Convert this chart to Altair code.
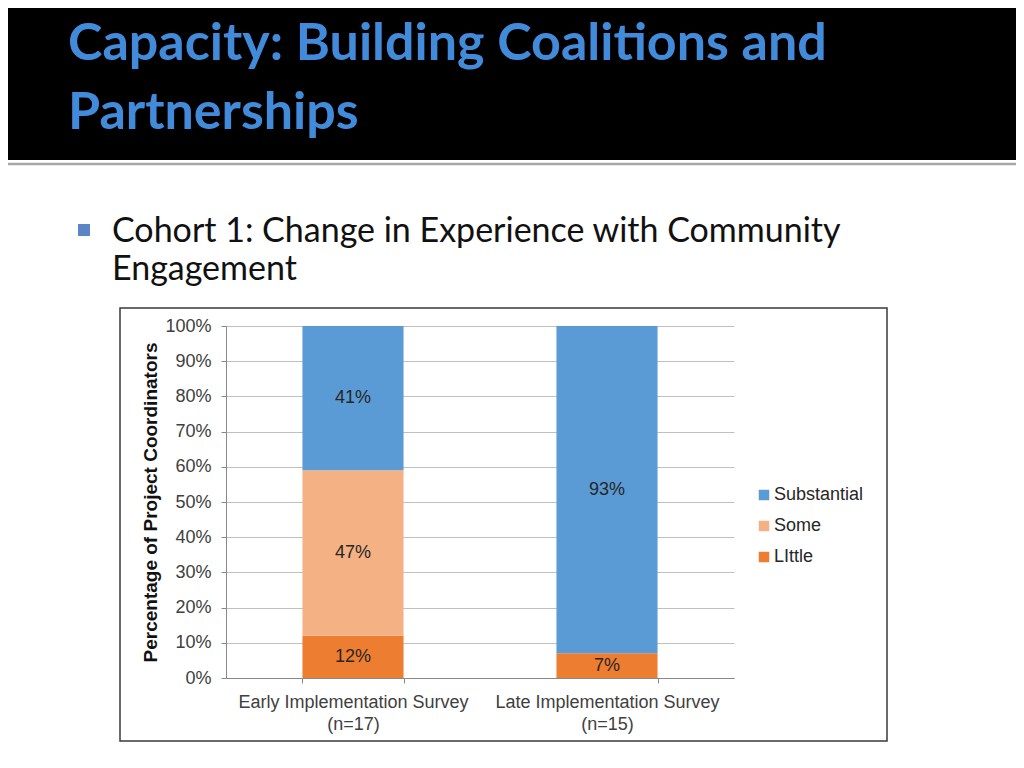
import altair as alt
import pandas as pd

# ---- content ----
title_lines = ["Capacity: Building Coalitions and", "Partnerships"]
bullet_lines = ["Cohort 1: Change in Experience with Community", "Engagement"]
categories = ["Early Implementation Survey|(n=17)", "Late Implementation Survey|(n=15)"]
levels = ["Substantial", "Some", "LIttle"]
substantial = [41, 93]
some = [47, 0]
little = [12, 7]
colors = ["#5B9BD5", "#F4B183", "#ED7D31"]
y_title = "Percentage of Project Coordinators"

rows = []
for i, c in enumerate(categories):
    for lvl, vals, rank in [("LIttle", little, 0), ("Some", some, 1), ("Substantial", substantial, 2)]:
        rows.append({"category": c, "level": lvl, "value": vals[i] / 100.0, "rank": rank})
df = pd.DataFrame(rows)

FONT = "Liberation Sans"

x_enc = alt.X(
    "category:N",
    sort=categories,
    scale=alt.Scale(paddingInner=0.602, paddingOuter=0.301),
    axis=alt.Axis(
        title=None, labelExpr="split(datum.label, '|')", tickBand="extent",
        labelAngle=0, labelFont=FONT, labelFontSize=18, labelColor="#404040",
        labelLineHeight=22, labelPadding=10, tickSize=5, tickColor="#888888",
        domainColor="#888888", labelBaseline="top", labelLimit=0,
    ),
)
y_axis = alt.Axis(
    title=y_title, format=".0%", values=[i / 10 for i in range(11)],
    labelFont=FONT, labelFontSize=18, labelColor="#404040", labelPadding=10,
    tickSize=5, tickColor="#888888", domainColor="#888888",
    gridColor="#C0C0C0", titleFont=FONT, titleFontSize=19, titleFontWeight="bold",
    titleColor="#111111", titleAngle=270, titleX=-76, titleY=176,
    titleAlign="center", titleBaseline="middle",
)

base = alt.Chart(df).transform_stack(
    stack="value", groupby=["category"], as_=["y0", "y1"],
    sort=[alt.SortField("rank", order="ascending")],
).transform_calculate(mid="(datum.y0 + datum.y1) / 2")

bars = base.mark_bar().encode(
    x=x_enc,
    y=alt.Y("y0:Q", scale=alt.Scale(domain=[0, 1]), axis=y_axis),
    y2="y1:Q",
    color=alt.Color(
        "level:N", scale=alt.Scale(domain=levels, range=colors),
        legend=alt.Legend(
            title=None, orient="none", legendX=529, legendY=160,
            symbolType="square", symbolSize=110, symbolStrokeWidth=0,
            labelFont=FONT, labelFontSize=18, labelColor="#262626",
            rowPadding=13, labelOffset=1,
        ),
    ),
)

labels = base.transform_filter("datum.value > 0").mark_text(
    font=FONT, fontSize=18, color="#262626", baseline="middle"
).encode(
    x=x_enc,
    y=alt.Y("mid:Q", scale=alt.Scale(domain=[0, 1]), axis=y_axis),
    text=alt.Text("value:Q", format=".0%"),
)

one = alt.Data(values=[{"k": 1}])

header = alt.Chart(one).mark_rect(color="black").encode(
    x=alt.value(-218), x2=alt.value(790), y=alt.value(-318), y2=alt.value(-166)
)
sep = alt.Chart(one).mark_rule(color="#A6A6A6", strokeWidth=2.5).encode(
    x=alt.value(-218), x2=alt.value(790), y=alt.value(-162)
)
title1 = alt.Chart(one).mark_text(
    font="Lato", fontSize=52, fontWeight="bold", color="#428BDB", align="left", baseline="alphabetic"
).encode(x=alt.value(-158), y=alt.value(-266), text=alt.value(title_lines[0]))
title2 = alt.Chart(one).mark_text(
    font="Lato", fontSize=52, fontWeight="bold", color="#428BDB", align="left", baseline="alphabetic"
).encode(x=alt.value(-158), y=alt.value(-197), text=alt.value(title_lines[1]))

bullet = alt.Chart(one).mark_rect(color="#5B86C5").encode(
    x=alt.value(-148), x2=alt.value(-136), y=alt.value(-102), y2=alt.value(-90)
)
btext1 = alt.Chart(one).mark_text(
    font="Lato", fontSize=34, color="#111111", align="left", baseline="alphabetic"
).encode(x=alt.value(-114), y=alt.value(-84), text=alt.value(bullet_lines[0]))
btext2 = alt.Chart(one).mark_text(
    font="Lato", fontSize=34, color="#111111", align="left", baseline="alphabetic"
).encode(x=alt.value(-114), y=alt.value(-46), text=alt.value(bullet_lines[1]))

frame = alt.Chart(one).mark_rect(fillOpacity=0, stroke="#3A3A3A", strokeWidth=1.5).encode(
    x=alt.value(-106), x2=alt.value(661), y=alt.value(-18), y2=alt.value(415)
)

chart = alt.layer(
    header, sep, title1, title2, bullet, btext1, btext2, frame, bars, labels
).properties(
    width=508, height=352,
    autosize=alt.AutoSizeParams(type="none"),
    padding={"left": 218, "top": 318, "right": 282, "bottom": 82},
    background="white",
).configure_view(strokeWidth=0)

chart.save("out.html", embed_options={"renderer": "svg", "actions": False})
